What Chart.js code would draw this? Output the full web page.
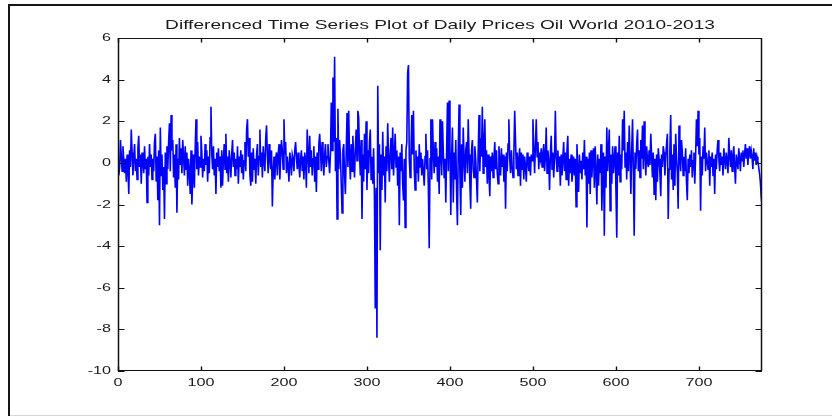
<!DOCTYPE html>
<html>
<head>
<meta charset="utf-8">
<script src="https://cdn.jsdelivr.net/npm/chart.js@4/dist/chart.umd.min.js"></script>
<style>
html,body{margin:0;padding:0;background:#fff;}
#wrap{width:832px;height:417px;}
canvas{display:block;}
</style>
</head>
<body>
<div id="wrap"><canvas id="c" width="832" height="417" style="width:832px;height:417px"></canvas></div>
<script>
const titleText = "Differenced Time Series Plot of Daily Prices Oil World 2010-2013";
const xTicks = [0, 100, 200, 300, 400, 500, 600, 700];
const yTicks = [-10, -8, -6, -4, -2, 0, 2, 4, 6];
const xRange = [0, 776];
const yRange = [-10, 6];

// daily differenced prices, day 1 .. 776
const priceDiffs = [
-0.6,-0.2,1.1,0.3,-0.4,0.8,0.1,-0.5,0.2,-0.9,
0.4,-0.3,-1.5,0.6,-0.2,1.6,0.5,-0.6,0.3,0.9,
-0.4,0.2,-0.8,0.7,1.3,-0.2,0.4,-1.0,0.5,0.1,
-0.5,0.8,-0.3,0.2,-1.9,0.3,-0.6,0.9,-0.2,0.4,
-0.8,0.2,-0.4,1.0,1.4,-0.9,0.3,-1.8,0.6,-3.0,
1.7,-0.6,0.4,-1.3,-0.2,-2.7,0.5,-1.0,0.8,-0.3,
1.0,1.9,-0.4,2.3,0.6,1.1,-0.7,0.4,-1.2,0.9,
-2.4,0.2,-0.8,1.2,-0.1,0.7,-0.5,1.1,0.3,-0.6,
0.8,-0.3,0.5,-1.1,0.2,-0.4,-1.5,0.6,-2.0,-0.8,
0.4,-1.2,0.7,2.1,-0.3,1.0,-0.6,0.3,-0.2,1.3,
0.5,-0.7,0.2,-0.4,0.9,-0.1,0.6,-0.9,0.3,-0.5,
1.2,2.7,0.4,-0.3,0.8,-0.6,0.2,-1.5,0.5,-0.2,
0.7,-0.4,0.3,-1.2,0.6,-1.1,0.2,0.9,-0.3,1.4,
-0.5,0.3,-0.9,0.6,0.1,-0.7,0.4,1.1,-0.2,0.5,
-0.6,0.2,-0.3,0.8,-1.0,0.3,-0.2,0.6,-0.5,0.4,
-0.8,0.1,1.0,-0.4,1.6,2.1,0.3,1.2,-0.6,-1.1,
0.5,-0.9,0.7,-0.3,0.2,-1.0,0.4,0.9,-0.6,0.3,
1.6,-0.2,0.5,-0.7,0.8,0.1,-0.4,1.2,1.8,0.3,
-0.5,0.9,0.2,-0.3,0.6,-2.1,-0.4,0.3,-0.8,0.2,
0.5,-0.6,0.4,0.9,-0.8,0.2,1.1,0.6,-0.3,2.1,
0.4,1.0,-0.5,0.3,-0.2,-0.9,0.5,0.1,-0.6,0.4,
0.2,-0.4,0.6,1.0,0.3,-0.3,0.5,-0.1,-0.7,0.2,
0.6,-0.4,0.3,-0.8,0.5,0.1,-1.2,1.6,0.4,-0.5,
1.3,-0.2,0.6,-0.6,0.2,0.8,-0.9,0.3,-1.4,0.5,
-0.3,0.9,1.4,0.6,-0.4,1.0,0.2,-0.6,0.4,0.9,
-0.2,0.3,0.9,0.1,-0.5,0.4,2.9,0.6,4.1,1.0,
5.1,-0.4,1.2,-2.7,2.6,-0.3,1.1,0.4,-1.0,-2.4,
0.6,0.9,-0.6,-1.5,0.5,2.4,-0.2,2.5,0.3,-0.8,
0.9,-0.4,1.3,0.2,-0.7,0.7,1.6,0.1,2.5,2.2,
0.5,-0.6,1.1,-2.7,0.4,-0.9,1.4,-0.3,2.0,-1.3,
0.6,-0.5,1.0,1.6,-0.8,0.3,-1.0,0.7,-1.6,-7.0,
-1.2,-8.4,3.7,-0.5,0.9,-4.2,0.4,-1.3,1.5,-0.6,
0.3,-1.9,0.8,-0.4,1.9,0.2,-0.9,0.5,1.2,-0.3,
1.7,-0.6,0.4,1.4,-0.2,0.6,-1.1,0.3,-3.0,0.5,
-0.4,0.9,-1.0,-1.8,0.2,-3.1,0.6,1.0,4.3,4.7,
0.2,-0.7,0.5,2.3,0.4,2.5,-0.3,-1.3,0.6,-0.5,
0.3,-0.9,0.9,-0.2,0.5,-0.6,0.2,-0.4,-1.1,0.3,
1.4,-0.3,0.6,-1.2,-4.1,0.2,2.1,-0.8,2.1,0.4,
-0.5,1.0,-0.2,0.7,-0.9,0.3,-1.5,2.1,0.4,-0.6,
2.0,0.5,-0.7,0.2,-1.9,0.6,2.9,-0.4,3.0,0.8,
-2.5,0.3,1.7,-1.9,0.5,-0.8,1.1,-1.4,-3.0,0.7,
2.8,-0.6,-2.5,0.9,-1.2,1.7,0.2,-0.9,0.6,1.0,
-0.5,2.1,0.4,-1.0,-2.2,0.6,1.1,-0.3,-0.7,0.8,
0.2,-0.8,-1.9,0.5,2.3,-0.4,1.2,0.3,2.7,-0.5,
0.9,2.1,-0.2,0.6,-1.0,0.4,-0.6,-1.6,0.3,-0.4,
0.5,-0.7,0.2,1.0,-0.3,0.6,-0.5,-1.0,0.8,0.1,
-0.6,0.7,-0.2,0.4,-0.9,0.3,-2.2,0.5,-0.4,0.9,
2.1,0.2,-0.5,0.6,-0.2,-0.7,0.4,2.5,1.1,-0.3,
0.5,-0.6,0.2,0.7,-1.1,0.5,-0.3,0.4,-0.8,0.3,
-0.2,-0.9,0.5,0.1,-0.4,0.3,-0.6,0.4,0.1,2.1,
0.6,-0.5,0.9,2.1,0.3,1.0,-0.3,0.5,0.2,0.7,
-0.2,0.4,0.9,-0.4,0.3,1.7,-0.5,0.6,0.1,-1.3,
0.4,1.3,-0.3,0.5,-0.7,0.2,2.5,0.3,-0.4,0.6,
-0.2,0.3,-1.1,0.4,-0.6,0.2,1.0,-0.4,0.5,-0.8,
0.6,1.3,-1.1,0.2,-0.5,0.4,-0.9,-0.4,0.3,-0.6,
0.2,-2.1,0.9,-0.3,-1.4,0.4,-0.5,0.1,-0.8,0.5,
-0.3,1.1,-0.6,0.3,-3.1,0.2,-1.0,0.5,-1.5,0.6,
-0.7,0.3,0.7,-1.2,0.8,-0.4,-2.0,0.4,-1.1,0.2,
-0.5,0.9,-2.3,-0.6,0.5,-3.5,0.3,-1.2,1.7,-0.4,
0.6,1.6,-2.3,0.4,-1.0,0.8,-0.5,0.2,0.8,-1.3,
-3.6,0.5,-0.6,1.3,-0.9,0.4,-0.3,2.1,0.6,2.5,
-0.2,0.5,-0.8,1.0,-0.4,1.8,0.3,-1.5,0.6,2.1,
-0.5,-3.5,0.5,-0.3,0.9,1.6,-0.4,0.6,-0.7,1.1,
0.2,1.8,-0.3,2.0,0.4,-0.6,0.8,0.1,-0.2,0.6,
-0.1,1.4,0.3,-0.7,0.5,-1.5,0.2,-1.8,0.4,-0.9,
0.7,0.2,-0.5,-1.6,0.4,-0.2,0.8,0.5,-0.6,0.3,
0.9,1.4,-2.7,-0.3,0.6,2.3,-0.8,0.4,-1.3,0.9,
-1.1,1.4,0.2,-0.5,-2.2,1.8,0.3,-0.4,1.1,0.5,
-0.6,0.3,-0.4,0.7,-0.9,-1.8,0.2,-0.5,0.4,-0.2,
0.6,-0.7,0.1,0.5,-1.0,0.3,2.1,0.8,2.5,0.4,
1.2,-2.3,0.3,-0.6,0.8,0.2,1.7,-0.4,0.5,0.1,
-0.3,0.6,-1.1,0.3,-0.2,0.5,-0.6,0.2,-1.5,0.4,
-0.3,0.6,1.1,0.2,-0.4,0.5,-0.1,0.3,-0.6,0.7,
0.2,-0.3,0.5,0.1,-0.5,1.2,0.4,-0.2,0.6,-0.4,
0.3,0.8,-0.2,-1.0,0.4,0.1,-0.3,0.7,0.2,-0.4,
0.5,0.1,0.6,-0.2,0.4,0.9,0.2,0.7,-0.1,0.5,
0.8,0.2,0.6,0.3,-0.3,0.7,0.1,0.5,-0.1,0.3,
0.1,-0.2,-0.5,-0.9,-1.6,-2.0
];

// The reference figure is horizontally stretched; draw text with the same stretch.
const SX = 1.47;
(function(){
  const P = CanvasRenderingContext2D.prototype;
  const origFill = P.fillText, origMeasure = P.measureText;
  P.fillText = function(t, x, y, mw){
    this.save(); this.translate(x, y); this.scale(SX, 1);
    origFill.call(this, t, 0, 0); this.restore();
  };
  P.measureText = function(t){
    const m = origMeasure.call(this, t);
    return {
      width: m.width * SX,
      actualBoundingBoxAscent: m.actualBoundingBoxAscent,
      actualBoundingBoxDescent: m.actualBoundingBoxDescent,
      actualBoundingBoxLeft: m.actualBoundingBoxLeft * SX,
      actualBoundingBoxRight: m.actualBoundingBoxRight * SX,
      fontBoundingBoxAscent: m.fontBoundingBoxAscent,
      fontBoundingBoxDescent: m.fontBoundingBoxDescent
    };
  };
})();

const FONT = "'Liberation Sans', Arial, Helvetica, sans-serif";
Chart.defaults.font.family = FONT;

const points = priceDiffs.map((v, i) => ({x: i + 1, y: v}));

const framePlugin = {
  id: 'frame',
  beforeDraw(chart){
    const ctx = chart.ctx, a = chart.chartArea;
    ctx.save();
    ctx.fillStyle = '#fff';
    ctx.fillRect(0, 0, chart.width, chart.height);
    ctx.strokeStyle = '#151515';
    ctx.lineWidth = 2;
    ctx.beginPath();
    ctx.moveTo(8, 5); ctx.lineTo(chart.width, 5);
    ctx.moveTo(9, 4); ctx.lineTo(9, 416);
    ctx.stroke();
    ctx.strokeStyle = '#d6d6d6';
    ctx.lineWidth = 1;
    ctx.beginPath();
    ctx.moveTo(10, 415.5); ctx.lineTo(chart.width, 415.5);
    ctx.stroke();
    ctx.fillStyle = '#1a1a1a';
    ctx.font = "13px " + FONT;
    ctx.textAlign = 'center';
    ctx.textBaseline = 'alphabetic';
    ctx.fillText(titleText, (a.left + a.right) / 2, 28.5);
    ctx.restore();
  },
  afterDatasetsDraw(chart){
    const ctx = chart.ctx, a = chart.chartArea;
    const xs = chart.scales.x, ys = chart.scales.y;
    ctx.save();
    ctx.strokeStyle = '#111';
    ctx.lineWidth = 1;
    ctx.beginPath();
    ctx.moveTo(a.left, a.top + 0.5); ctx.lineTo(a.right, a.top + 0.5);
    ctx.moveTo(a.left, a.bottom - 0.5); ctx.lineTo(a.right, a.bottom - 0.5);
    ctx.stroke();
    ctx.lineWidth = 1.5;
    ctx.beginPath();
    ctx.moveTo(a.left + 0.5, a.top); ctx.lineTo(a.left + 0.5, a.bottom);
    ctx.moveTo(a.right - 0.5, a.top); ctx.lineTo(a.right - 0.5, a.bottom);
    ctx.stroke();
    ctx.lineWidth = 1.4;
    ctx.beginPath();
    xTicks.forEach(v => {
      const px = Math.round(xs.getPixelForValue(v)) + 0.5;
      ctx.moveTo(px, a.bottom); ctx.lineTo(px, a.bottom - 4.5);
      ctx.moveTo(px, a.top); ctx.lineTo(px, a.top + 4.5);
    });
    ctx.stroke();
    ctx.lineWidth = 1;
    ctx.beginPath();
    yTicks.forEach(v => {
      const py = Math.round(ys.getPixelForValue(v)) + 0.5;
      ctx.moveTo(a.left, py); ctx.lineTo(a.left + 6.5, py);
      ctx.moveTo(a.right, py); ctx.lineTo(a.right - 6.5, py);
    });
    ctx.stroke();
    ctx.restore();
  }
};

new Chart(document.getElementById('c'), {
  type: 'line',
  data: {
    datasets: [{
      data: points,
      borderColor: '#0000ff',
      borderWidth: 1.6,
      pointRadius: 0,
      tension: 0,
      fill: false
    }]
  },
  options: {
    responsive: false,
    animation: false,
    devicePixelRatio: 1,
    events: [],
    layout: { padding: { left: 0, right: 70, top: 38, bottom: 0 } },
    plugins: { legend: { display: false }, tooltip: { enabled: false }, title: { display: false } },
    scales: {
      x: {
        type: 'linear',
        min: xRange[0], max: xRange[1],
        afterBuildTicks: s => { s.ticks = xTicks.map(v => ({value: v})); },
        afterFit: s => { s.height = 46; },
        grid: { display: false, drawTicks: false },
        border: { display: false },
        ticks: { padding: 5, color: '#1a1a1a', font: { size: 11, family: FONT }, maxRotation: 0, autoSkip: false }
      },
      y: {
        type: 'linear',
        min: yRange[0], max: yRange[1],
        afterBuildTicks: s => { s.ticks = yTicks.map(v => ({value: v})); },
        afterFit: s => { s.width = 118; },
        grid: { display: false, drawTicks: false },
        border: { display: false },
        ticks: { padding: 7, color: '#1a1a1a', font: { size: 11, family: FONT }, autoSkip: false }
      }
    }
  },
  plugins: [framePlugin]
});
</script>
</body>
</html>
